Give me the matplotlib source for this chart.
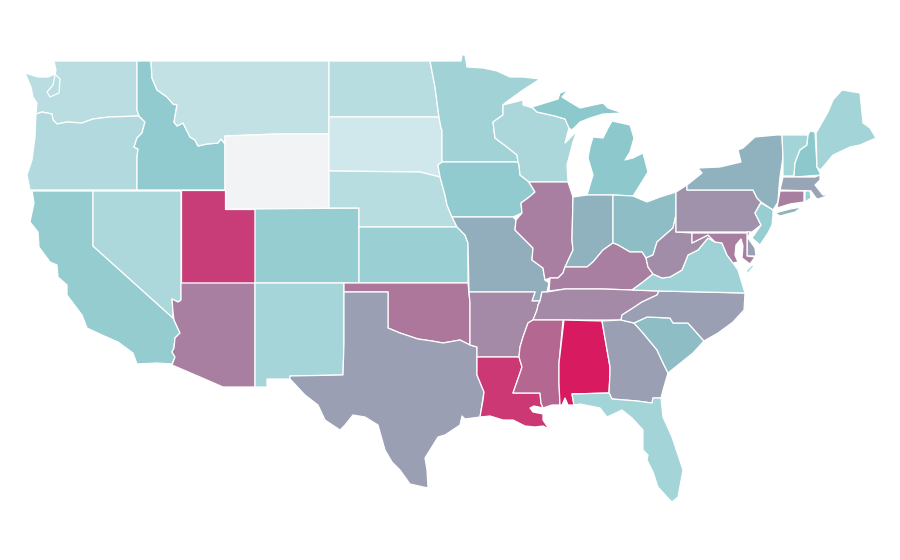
import matplotlib
matplotlib.use("Agg")
import matplotlib.pyplot as plt
from matplotlib.colors import LinearSegmentedColormap, Normalize
from matplotlib.patches import Polygon

# Index per state (None = no data)
STATES = ["WA","OR","CA","NV","ID","MT","WY","UT","AZ","CO","NM","ND","SD","NE","KS","OK","TX",
          "MN","IA","MO","AR","LA","WI","IL","MI","IN","OH","KY","TN","MS","AL","GA","FL","SC",
          "NC","VA","WV","PA","NY","VT","NH","ME","MA","CT","RI","NJ","DE","MD"]
VALUES = [13,17,35,20,37,8,None,88,72,34,24,14,0,14,31,74,60,
          27,37,52,68,90,21,72,40,50,45,72,68,78,100,60,25,45,
          60,28,67,65,50,25,40,25,57,72,32,33,60,72]

SCALE_STOPS = [0,25,40,50,60,72,88,100]
SCALE_COLORS = ["#d0e7eb","#a3d4d8","#8cc8cc","#90b2bf","#9a9fb3","#a880a0","#c83e78","#d81b60"]
NO_DATA_COLOR = "#f2f3f5"

# State outlines
OUTLINES = {
"WA":[(54,61),(137,61),(137,110),(139,116),(109,117),(93,119),(82,123),(67,122),(57,124),(53,120),(52,114),(42,112),(36,114),(37,103),(33,97),(31,87),(25,73),(38,77),(48,77),(55,74),(60,79),(59,93),(50,97),(47,92),(53,85),(56,70)],
"OR":[(36,114),(42,112),(52,114),(53,120),(57,124),(67,122),(82,123),(93,119),(109,117),(139,116),(145,122),(142,133),(137,138),(134,147),(138,149),(137,157),(137,190),(30,190),(27,175),(32,160),(35,137)],
"CA":[(32,191),(93,191),(93,246),(173,318),(174,320),(180,333),(175,338),(174,348),(172,352),(175,357),(172,364),(157,363),(137,364),(133,353),(118,342),(102,335),(87,328),(82,315),(67,295),(67,285),(58,277),(57,265),(50,262),(39,247),(38,232),(30,222),(34,203)],
"NV":[(93,191),(181,191),(181,300),(178,302),(172,299),(173,312),(173,318),(93,246)],
"ID":[(137,61),(151,61),(152,78),(157,90),(167,97),(173,104),(177,105),(174,122),(177,126),(183,123),(190,137),(195,140),(198,146),(207,144),(218,143),(221,139),(225,144),(225,190),(137,190),(137,157),(138,149),(134,147),(137,138),(142,133),(145,122),(139,116),(137,110)],
"MT":[(151,61),(329,61),(329,134),(277,134),(225,136),(225,144),(221,139),(218,143),(207,144),(198,146),(195,140),(190,137),(183,123),(177,126),(174,122),(177,105),(173,104),(167,97),(157,90),(152,78)],
"WY":[(225,136),(277,134),(329,134),(329,209),(225,209)],
"UT":[(181,190),(225,190),(225,209),(255,209),(255,283),(181,283)],
"AZ":[(181,283),(255,283),(255,387),(223,387),(200,377),(172,365),(175,357),(172,352),(174,348),(175,338),(180,333),(174,320),(173,312),(172,299),(178,302),(181,300)],
"CO":[(255,209),(359,208),(359,283),(255,283)],
"NM":[(255,283),(344,283),(344,343),(343,375),(290,376),(290,379),(267,379),(267,387),(255,387)],
"ND":[(329,61),(430,61),(435,87),(438,110),(439,117),(329,117)],
"SD":[(329,117),(439,117),(441,128),(442,130),(442,162),(438,165),(440,177),(432,175),(420,172),(329,171)],
"NE":[(329,171),(420,172),(432,175),(440,177),(445,195),(447,205),(452,217),(457,227),(359,227),(359,208),(329,208)],
"KS":[(359,227),(457,227),(462,232),(465,235),(468,243),(468,283),(359,283)],
"OK":[(344,283),(468,283),(470,303),(470,345),(460,340),(443,343),(432,341),(418,339),(400,333),(388,328),(388,292),(344,292)],
"TX":[(344,292),(388,292),(388,328),(400,333),(418,339),(432,341),(443,343),(460,340),(470,345),(477,347),(477,375),(484,392),(480,417),(465,419),(462,416),(460,425),(445,435),(438,437),(430,450),(425,458),(427,470),(428,488),(410,484),(400,470),(392,462),(385,450),(378,425),(365,417),(353,415),(345,425),(340,430),(325,420),(318,405),(305,395),(290,379),(290,376),(343,375),(344,343)],
"MN":[(430,61),(461,61),(462,55),(465,55),(467,67),(483,68),(497,71),(510,77),(523,77),(540,79),(523,90),(505,103),(503,105),(503,115),(493,122),(495,138),(507,147),(517,155),(518,162),(442,162),(442,130),(441,128),(439,117),(438,110),(435,87)],
"IA":[(442,162),(518,162),(519,165),(520,175),(528,181),(535,192),(528,198),(521,203),(522,213),(513,217),(452,217),(447,205),(445,195),(440,177),(438,165)],
"MO":[(452,217),(513,217),(516,220),(515,230),(527,242),(533,248),(532,260),(543,268),(545,280),(549,283),(547,292),(542,292),(540,301),(532,301),(535,292),(469,292),(468,243),(465,235),(462,232),(457,227)],
"AR":[(469,292),(535,292),(532,301),(540,301),(538,305),(537,310),(533,320),(528,323),(523,337),(520,347),(519,357),(477,357),(477,347),(470,345),(470,303)],
"LA":[(477,357),(519,357),(522,367),(520,373),(513,393),(540,393),(541,403),(543,408),(534,406),(530,408),(533,412),(543,414),(543,420),(549,429),(543,426),(535,427),(525,426),(513,420),(503,420),(490,416),(480,417),(483,400),(484,392),(477,375)],
"WI":[(503,105),(523,100),(523,105),(533,108),(537,112),(555,116),(565,119),(569,128),(565,143),(577,131),(573,142),(567,165),(568,182),(529,182),(520,175),(519,165),(518,162),(517,155),(507,147),(495,138),(493,122),(503,115)],
"IL":[(529,182),(568,182),(573,197),(572,240),(573,250),(565,267),(563,273),(558,278),(550,278),(545,280),(543,268),(532,260),(533,248),(527,242),(515,230),(516,220),(522,213),(521,203),(528,198),(535,192)],
"MI":[(532,107),(558,99),(560,93),(568,90),(562,97),(570,102),(580,108),(603,103),(608,108),(623,113),(603,114),(590,118),(580,122),(572,130),(569,128),(565,119),(555,116),(537,112)],
"MI2":[(612,121),(630,125),(634,138),(630,152),(625,160),(633,158),(643,153),(648,172),(640,185),(633,196),(613,195),(587,195),(593,175),(588,158),(590,147),(593,137),(603,138),(608,128)],
"IN":[(573,197),(587,195),(613,195),(613,243),(603,250),(593,262),(587,267),(577,267),(565,267),(573,250),(572,240)],
"OH":[(613,195),(633,196),(647,202),(660,197),(676,192),(676,215),(673,228),(657,242),(653,255),(646,258),(642,252),(630,252),(618,245),(613,243)],
"KY":[(549,291),(550,278),(558,278),(563,273),(565,267),(577,267),(587,267),(593,262),(603,250),(613,243),(618,245),(630,252),(642,252),(646,258),(648,267),(653,274),(643,282),(632,290),(602,289),(565,289)],
"TN":[(547,292),(565,289),(602,289),(632,290),(659,291),(657,295),(642,302),(633,308),(622,315),(621,320),(533,320),(537,310),(538,305),(540,301),(542,292)],
"MS":[(533,320),(563,320),(559,363),(559,383),(560,405),(552,405),(543,408),(541,403),(540,393),(513,393),(520,373),(522,367),(519,357),(520,347),(523,337),(528,323)],
"AL":[(564,320),(602,321),(610,367),(610,373),(609,393),(572,394),(574,405),(568,405),(565,398),(562,405),(560,405),(559,383),(559,363)],
"GA":[(602,321),(621,320),(634,323),(643,333),(657,350),(663,363),(668,373),(663,390),(661,398),(653,398),(652,403),(637,401),(612,399),(609,393),(610,373),(610,367)],
"FL":[(572,394),(609,393),(612,399),(637,401),(652,403),(653,398),(661,398),(663,417),(672,437),(683,470),(678,497),(672,502),(667,497),(658,487),(653,472),(647,460),(648,455),(643,450),(643,430),(632,418),(622,410),(607,417),(600,408),(580,404),(574,405)],
"SC":[(634,323),(647,317),(670,318),(673,323),(688,323),(704,341),(693,353),(678,365),(668,373),(663,363),(657,350),(643,333)],
"NC":[(659,291),(745,293),(744,310),(733,322),(718,333),(704,341),(688,323),(673,323),(670,318),(647,317),(634,323),(621,320),(622,315),(633,308),(642,302),(657,295)],
"VA":[(632,290),(643,282),(653,274),(662,278),(670,277),(682,270),(688,255),(698,250),(708,238),(715,242),(722,243),(727,255),(733,263),(738,270),(745,293),(659,291)],
"VA2":[(752,265),(754,266),(748,273),(746,271)],
"WV":[(676,232),(692,233),(692,243),(708,235),(715,242),(708,238),(698,250),(688,255),(682,270),(670,277),(662,278),(653,274),(648,267),(646,258),(653,255),(657,242),(673,228),(676,215)],
"PA":[(676,192),(687,185),(687,190),(753,190),(757,198),(761,202),(755,213),(761,225),(752,232),(676,232)],
"NY":[(687,190),(753,190),(757,198),(761,202),(773,210),(778,202),(779,187),(780,177),(783,157),(782,135),(777,135),(755,137),(743,148),(738,150),(741,162),(720,167),(698,168),(702,173),(687,185)],
"NY2":[(775,213),(790,209),(802,207),(795,212),(780,216)],
"VT":[(782,135),(808,135),(807,145),(800,150),(795,163),(794,176),(783,176),(783,157)],
"NH":[(810,131),(815,132),(817,167),(821,175),(795,177),(794,176),(795,163),(800,150),(807,145),(808,135)],
"ME":[(816,133),(828,112),(833,100),(842,90),(860,93),(863,123),(870,128),(876,138),(860,145),(850,147),(833,155),(823,167),(820,170),(817,167)],
"MA":[(783,177),(815,177),(820,175),(820,180),(815,185),(823,195),(830,195),(818,199),(816,198),(811,191),(780,190)],
"CT":[(780,191),(804,191),(804,202),(790,204),(777,208)],
"RI":[(805,191),(810,191),(811,198),(805,202)],
"NJ":[(761,203),(773,210),(773,215),(772,225),(768,233),(760,245),(752,238),(761,225),(755,213)],
"DE":[(747,232),(750,232),(748,238),(755,248),(756,256),(747,256)],
"MD":[(692,233),(747,233),(747,256),(755,257),(750,264),(742,258),(743,246),(741,239),(736,245),(735,255),(738,262),(733,263),(727,255),(722,243),(715,242),(708,235),(692,243)],
}
PARTS = {"MI":["MI","MI2"], "VA":["VA","VA2"], "NY":["NY","NY2"]}

cmap = LinearSegmentedColormap.from_list(
    "index", [(s / 100, c) for s, c in zip(SCALE_STOPS, SCALE_COLORS)])
norm = Normalize(0, 100)

fig = plt.figure(figsize=(9, 5.6), dpi=100, facecolor="white")
ax = fig.add_axes([0, 0, 1, 1])
ax.set_xlim(0, 900)
ax.set_ylim(560, 0)
ax.axis("off")

for state, value in zip(STATES, VALUES):
    color = NO_DATA_COLOR if value is None else cmap(norm(value))
    for part in PARTS.get(state, [state]):
        ax.add_patch(Polygon(OUTLINES[part], closed=True, facecolor=color,
                             edgecolor="white", linewidth=0.9, joinstyle="round"))

fig.savefig("out.png", dpi=100, facecolor="white")
